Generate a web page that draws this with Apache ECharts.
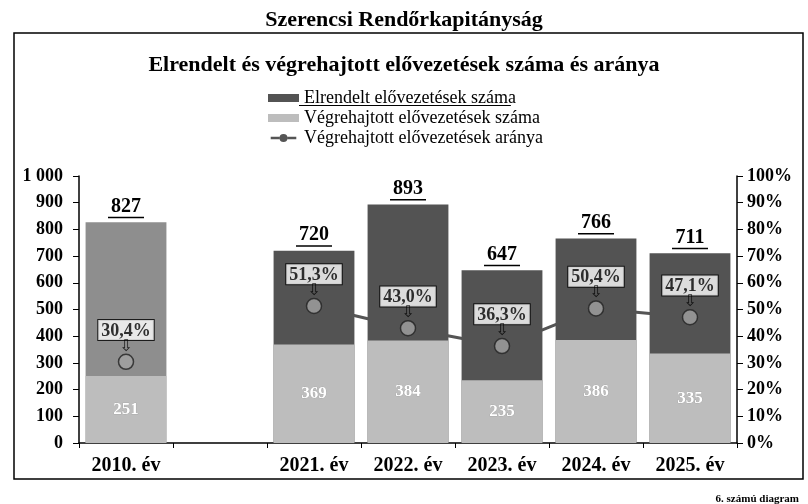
<!DOCTYPE html>
<html><head><meta charset="utf-8">
<script src="https://cdn.jsdelivr.net/npm/echarts@6/dist/echarts.min.js"></script>
<style>html,body{margin:0;padding:0;background:#fff}#c{width:808px;height:504px}</style>
</head><body><div id="c"></div>
<script>
const categories = ['2010. év', '', '2021. év', '2022. év', '2023. év', '2024. év', '2025. év'];
const elrendelt = [827, null, 720, 893, 647, 766, 711];
const vegrehajtott = [251, null, 369, 384, 235, 386, 335];
const arany = [30.4, null, 51.3, 43.0, 36.3, 50.4, 47.1];
const leftTicks = { min: 0, max: 1000, interval: 100 };
const rightTicks = { min: 0, max: 100, interval: 10 };

const FONT = '"Liberation Serif", "Times New Roman", serif';
const cDark = '#535353', c2010 = '#8e8e8e', cLight = '#bdbdbd';
const legendNames = ['Elrendelt elővezetések száma', 'Végrehajtott elővezetések száma', 'Végrehajtott elővezetések aránya'];
const LEG_FS = 18;

// measure first legend text for its underline
const mctx = document.createElement('canvas').getContext('2d');
mctx.font = LEG_FS + 'px "Liberation Serif"';
const legW = mctx.measureText(legendNames[0]).width;
const legTextX = 263 + 31 + 5;

const chart = echarts.init(document.getElementById('c'));
chart.setOption({
  backgroundColor: '#fff',
  animation: false,
  textStyle: { fontFamily: FONT },
  title: [
    { text: 'Szerencsi Rendőrkapitányság', left: 'center', top: 4,
      textStyle: { fontFamily: FONT, fontSize: 22, fontWeight: 'bold', color: '#000' } },
    { text: 'Elrendelt és végrehajtott elővezetések száma és aránya', left: 'center', top: 49,
      textStyle: { fontFamily: FONT, fontSize: 22, fontWeight: 'bold', color: '#000' } },
    { text: '6. számú diagram', right: 4, top: 489,
      textStyle: { fontFamily: FONT, fontSize: 11, fontWeight: 'bold', color: '#000' } }
  ],
  graphic: [
    { type: 'rect', shape: { x: 14, y: 33, width: 789, height: 446 }, z: -10,
      style: { fill: 'none', stroke: '#000', lineWidth: 1.5 } },
    { type: 'line', shape: { x1: legTextX, y1: 105.5, x2: legTextX + legW, y2: 105.5 },
      style: { stroke: '#000', lineWidth: 1 } }
  ],
  legend: {
    orient: 'vertical', left: 263, top: 84, itemGap: 2, itemWidth: 31, itemHeight: 8,
    textStyle: { fontFamily: FONT, fontSize: LEG_FS, color: '#000', padding: [0, 0, 0, 0] },
    data: [
      { name: legendNames[0], icon: 'rect' },
      { name: legendNames[1], icon: 'rect' },
      { name: legendNames[2],
        icon: 'path://M0,7h11v3H0z M21,8.5a5,5 0 1,0 -10,0a5,5 0 1,0 10,0z M21,7h11v3H21z' }
    ]
  },
  grid: { left: 79, right: 71, top: 176, bottom: 61 },
  xAxis: {
    type: 'category', data: categories,
    axisLine: { lineStyle: { color: '#000', width: 1.5 } },
    axisTick: { show: true, length: 5, lineStyle: { color: '#000' } },
    axisLabel: { fontFamily: FONT, fontSize: 20, fontWeight: 'bold', color: '#000', margin: 13 }
  },
  yAxis: [
    { type: 'value', min: leftTicks.min, max: leftTicks.max, interval: leftTicks.interval,
      splitLine: { show: false },
      axisLine: { show: true, lineStyle: { color: '#000', width: 1.5 } },
      axisTick: { show: true, length: 6, lineStyle: { color: '#000' } },
      axisLabel: { fontFamily: FONT, fontSize: 18, fontWeight: 'bold', color: '#000', margin: 16,
        formatter: v => v >= 1000 ? String(v).replace(/\B(?=(\d{3})+(?!\d))/g, ' ') : String(v) } },
    { type: 'value', min: rightTicks.min, max: rightTicks.max, interval: rightTicks.interval,
      splitLine: { show: false },
      axisLine: { show: true, lineStyle: { color: '#000', width: 1.5 } },
      axisTick: { show: true, length: 6, lineStyle: { color: '#000' } },
      axisLabel: { fontFamily: FONT, fontSize: 18, fontWeight: 'bold', color: '#000', margin: 10,
        formatter: '{value}%' } }
  ],
  series: [
    { name: legendNames[0], type: 'bar', z: 2, barCategoryGap: '14%',
      itemStyle: { color: cDark },
      data: elrendelt.map((v, i) => i === 0 ? { value: v, itemStyle: { color: c2010 } } : v),
      label: { show: true, position: 'top', distance: 4,
        formatter: p => '{n|' + p.value + '}\n{u|}',
        rich: {
          n: { fontFamily: FONT, fontSize: 20, fontWeight: 'bold', color: '#000', lineHeight: 20, align: 'center' },
          u: { width: 36, height: 1.5, backgroundColor: '#000', align: 'center' }
        } } },
    { name: legendNames[1], type: 'bar', z: 2, barGap: '-100%', barCategoryGap: '14%',
      itemStyle: { color: cLight },
      data: vegrehajtott,
      label: { show: true, position: 'inside', color: '#fff', fontFamily: FONT, fontSize: 17,
        fontWeight: 'bold', textBorderColor: '#999', textBorderWidth: 0.5 } },
    { name: legendNames[2], type: 'line', yAxisIndex: 1, z: 1,
      showSymbol: false, connectNulls: false,
      itemStyle: { color: '#555' },
      lineStyle: { color: '#555', width: 3 },
      data: arany },
    { name: 'arany_markers', type: 'scatter', yAxisIndex: 1, z: 5,
      symbol: 'circle', symbolSize: 15,
      itemStyle: { color: '#a3a3a3', borderColor: '#222', borderWidth: 1.5 },
      data: arany,
      label: { show: true, position: 'top', distance: 0,
        formatter: p => '{b|' + p.value.toFixed(1).replace('.', ',') + '%}\n{a|⇩}',
        rich: {
          b: { fontFamily: FONT, fontSize: 18, fontWeight: 'bold', color: '#000',
            backgroundColor: '#fff', borderColor: '#000', borderWidth: 1, padding: [2, 3, 0, 3],
            align: 'center', lineHeight: 19 },
          a: { fontFamily: '"DejaVu Sans"', fontSize: 16, color: '#000', align: 'center', lineHeight: 14 }
        } } }
  ]
});
</script></body></html>
